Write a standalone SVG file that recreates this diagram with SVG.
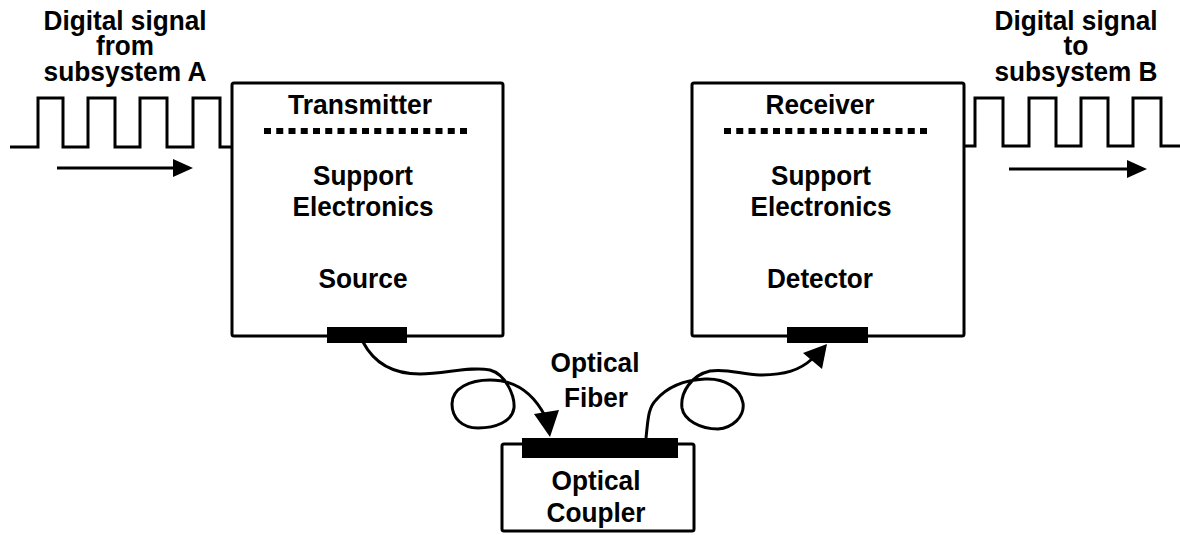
<svg xmlns="http://www.w3.org/2000/svg" width="1180" height="535" viewBox="0 0 1180 535">
<style>
text{font-family:"Liberation Sans",Arial,sans-serif;font-weight:bold;font-size:28px;fill:#000;text-anchor:middle}
.box{fill:#fff;stroke:#000;stroke-width:3}
.ln{fill:none;stroke:#000;stroke-width:3;stroke-linejoin:miter}
.dot{fill:none;stroke:#000;stroke-width:6;stroke-dasharray:7 5.25}
.blk{fill:#000}
</style>
<rect width="1180" height="535" fill="#fff"/>
<g id="input-signal">
<text x="125" y="30" textLength="163" lengthAdjust="spacingAndGlyphs">Digital signal</text>
<text x="125" y="55" textLength="58" lengthAdjust="spacingAndGlyphs">from</text>
<text x="125" y="81" textLength="163" lengthAdjust="spacingAndGlyphs">subsystem A</text>
<path class="ln" d="M10 147H38V98H63V147H88V98H115V147H140V98H167V147H193V98H220V147H232"/>
<path class="ln" d="M57 168H176"/>
<polygon class="blk" points="173,159 193,168 173,177"/>
</g>
<g id="transmitter">
<rect class="box" x="232" y="83" width="271" height="253" rx="2"/>
<text x="360" y="114" textLength="144" lengthAdjust="spacingAndGlyphs">Transmitter</text>
<path class="dot" d="M264 131H471"/>
<text x="363" y="185" textLength="100" lengthAdjust="spacingAndGlyphs">Support</text>
<text x="363" y="216" textLength="141" lengthAdjust="spacingAndGlyphs">Electronics</text>
<text x="363" y="288" textLength="89" lengthAdjust="spacingAndGlyphs">Source</text>
<rect class="blk" x="327" y="327" width="80" height="16"/>
</g>
<g id="receiver">
<rect class="box" x="692" y="83" width="272" height="253" rx="2"/>
<text x="820" y="114" textLength="109" lengthAdjust="spacingAndGlyphs">Receiver</text>
<path class="dot" d="M724 131H931"/>
<text x="821" y="185" textLength="100" lengthAdjust="spacingAndGlyphs">Support</text>
<text x="821" y="216" textLength="141" lengthAdjust="spacingAndGlyphs">Electronics</text>
<text x="820" y="288" textLength="106" lengthAdjust="spacingAndGlyphs">Detector</text>
<rect class="blk" x="787" y="327" width="81" height="16"/>
</g>
<g id="output-signal">
<text x="1076" y="30" textLength="163" lengthAdjust="spacingAndGlyphs">Digital signal</text>
<text x="1076" y="55" textLength="25" lengthAdjust="spacingAndGlyphs">to</text>
<text x="1076" y="81" textLength="163" lengthAdjust="spacingAndGlyphs">subsystem B</text>
<path class="ln" d="M963 146H975V98H1003V146H1029V98H1056V146H1081V98H1108V146H1133V98H1161V146H1180"/>
<path class="ln" d="M1009 169H1130"/>
<polygon class="blk" points="1127,160 1147,169 1127,178"/>
</g>
<g id="coupler">
<rect class="box" x="502" y="444" width="192" height="87" rx="2"/>
<rect class="blk" x="522" y="438" width="156" height="20"/>
<text x="596" y="490" textLength="89" lengthAdjust="spacingAndGlyphs">Optical</text>
<text x="596" y="522" textLength="99" lengthAdjust="spacingAndGlyphs">Coupler</text>
</g>
<g id="fiber-label">
<text x="595" y="372" textLength="89" lengthAdjust="spacingAndGlyphs">Optical</text>
<text x="596" y="407" textLength="64" lengthAdjust="spacingAndGlyphs">Fiber</text>
</g>
<g id="connectors">
<path class="ln" d="M363 342C375 365 395 374 420 374C445 374 470 366 490 370C505 374 515 395 514 408C512 422 495 428 478 428C462 428 452 418 452 404C452 388 470 380 490 380C515 380 533 393 545 416"/>
<polygon class="blk" points="534,414 559,410 550,437"/>
<path class="ln" d="M646 438C648 420 648 408 656 400C668 386 685 380 705 379C725 378 740 388 743 403C745 417 732 428 718 429C700 429 684 420 682 408C680 392 692 375 710 371C728 368 742 375 760 375C785 375 800 370 812 359"/>
<polygon class="blk" points="803,353 827,344 822,369"/>
</g>
</svg>
